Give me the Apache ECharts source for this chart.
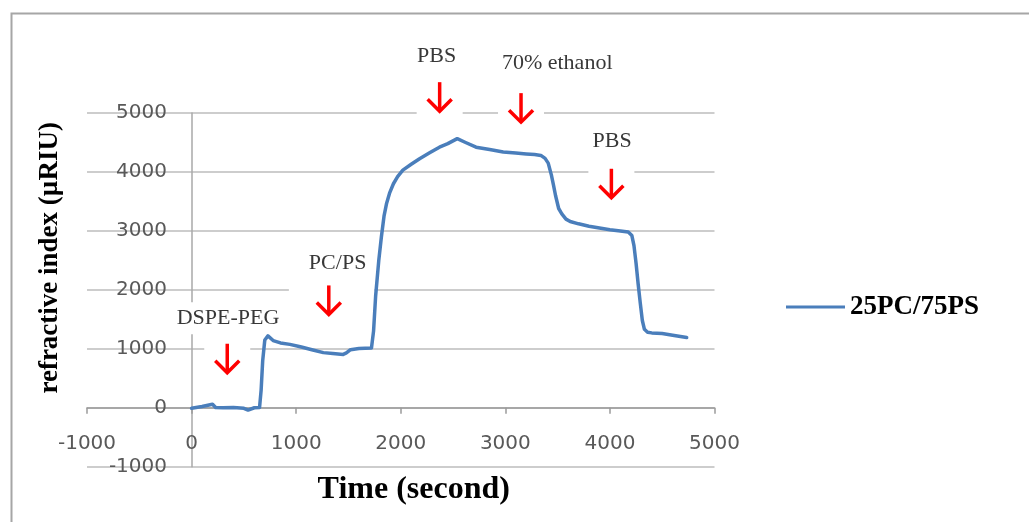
<!DOCTYPE html>
<html>
<head>
<meta charset="utf-8">
<script src="https://cdn.jsdelivr.net/npm/echarts@6/dist/echarts.min.js"></script>
<style>
  html, body { margin: 0; padding: 0; background: #fff; }
  #chart { width: 1029px; height: 522px; }
</style>
</head>
<body>
<div id="chart"></div>
<script>
// Sensorgram: refractive index over time for the 25PC/75PS bilayer
const seriesName = '25PC/75PS';
const timeSec = [0, 100, 200, 230, 300, 400, 500, 540, 600, 650, 665, 680, 700, 730, 780, 850, 940,
  1050, 1150, 1260, 1350, 1450, 1480, 1520, 1600, 1720, 1740, 1760, 1790, 1815, 1840, 1865, 1895,
  1930, 1970, 2020, 2100, 2180, 2280, 2370, 2450, 2540, 2620, 2720, 2850, 2980, 3100, 3200, 3280,
  3340, 3380, 3410, 3440, 3460, 3480, 3510, 3540, 3580, 3620, 3700, 3800, 3900, 4000, 4100, 4175,
  4210, 4230, 4250, 4270, 4290, 4310, 4330, 4360, 4400, 4500, 4600, 4734];
const riValues = [-10, 20, 60, 5, 0, 5, -10, -40, 0, 5, 300, 800, 1150, 1220, 1140, 1100, 1075,
  1030, 985, 935, 920, 905, 930, 985, 1005, 1015, 1300, 1900, 2500, 2900, 3250, 3470, 3650,
  3800, 3920, 4030, 4130, 4225, 4330, 4420, 4480, 4565, 4500, 4420, 4380, 4340, 4320, 4305, 4295,
  4280, 4230, 4150, 3950, 3780, 3600, 3380, 3290, 3200, 3160, 3120, 3080, 3050, 3020, 3000, 2980,
  2920, 2750, 2450, 2100, 1780, 1480, 1330, 1280, 1270, 1260, 1230, 1190];

// Injection notes: arrow tip (time, level) and the caption placed above it
const noteLabels = ['DSPE-PEG', 'PC/PS', 'PBS', '70% ethanol', 'PBS'];
const arrowTimes = [341, 1312, 2372, 3150, 4014];
const arrowLevels = [577, 1566, 5014, 4828, 3545];
const labelTimes = [348, 1339, 2343, 3496, 4021];
const labelLevels = [1520, 2453, 5968, 5849, 4517];

// Axis ticks
const axisMin = -1000;
const axisMax = 5000;
const axisStep = 1000;

const lineData = timeSec.map((t, i) => [t, riValues[i]]);
const arrowData = arrowTimes.map((t, i) => [t, arrowLevels[i]]);
const labelData = labelTimes.map((t, i) => [t, labelLevels[i]]);

// White backing behind each caption (pixels: top, right, bottom, left)
const captionPad = [[6, 10, 4, 10], [30, 8, 6, 20], [14, 14, 6, 14], [6, 10, 4, 10], [6, 10, 4, 10]];

const tickFont = { fontFamily: 'DejaVu Sans', fontSize: 20, color: '#595959', formatter: v => String(v) };

const chart = echarts.init(document.getElementById('chart'), null, { renderer: 'canvas' });

chart.setOption({
  animation: false,
  backgroundColor: '#ffffff',
  grid: { left: 87, right: 314.5, top: 113, bottom: 55.3, containLabel: false, outerBoundsMode: 'none' },
  legend: {
    data: [seriesName],
    left: 786,
    top: 293,
    padding: 0,
    itemWidth: 59,
    itemHeight: 3,
    icon: 'rect',
    textStyle: { fontFamily: 'Liberation Serif', fontWeight: 'bold', fontSize: 27, color: '#000', lineHeight: 28 }
  },
  xAxis: {
    type: 'value',
    min: axisMin, max: axisMax, interval: axisStep,
    name: 'Time (second)',
    nameLocation: 'middle',
    nameGap: 7,
    nameTextStyle: { fontFamily: 'Liberation Serif', fontWeight: 'bold', fontSize: 32, color: '#000', padding: [0, 0, 0, 26] },
    axisLine: { onZero: true, lineStyle: { color: '#9a9a9a', width: 1.5 } },
    axisTick: { show: true, inside: false, length: 6, lineStyle: { color: '#9a9a9a', width: 1.5 } },
    axisLabel: Object.assign({ margin: -33 }, tickFont),
    splitLine: { show: false }
  },
  yAxis: {
    type: 'value',
    min: axisMin, max: axisMax, interval: axisStep,
    name: 'refractive index (µRIU)',
    nameLocation: 'middle',
    nameGap: 23,
    nameTextStyle: { fontFamily: 'Liberation Serif', fontWeight: 'bold', fontSize: 27, color: '#000', padding: [0, 0, 0, 64] },
    axisLine: { show: true, onZero: true, lineStyle: { color: '#a8a8a8', width: 1.5 } },
    axisTick: { show: false },
    axisLabel: Object.assign({ margin: -80 }, tickFont),
    splitLine: { show: true, lineStyle: { color: '#bdbdbd', width: 1.5 } }
  },
  graphic: [{
    type: 'polyline',
    silent: true,
    shape: { points: [[11.5, 522], [11.5, 13.5], [1029, 13.5]] },
    style: { stroke: '#a6a6a6', lineWidth: 2, fill: null }
  }],
  series: [
    {
      name: seriesName,
      type: 'line',
      data: lineData,
      showSymbol: false,
      symbol: 'none',
      z: 4,
      lineStyle: { color: '#4a7ebb', width: 3.5, join: 'round', cap: 'round' },
      itemStyle: { color: '#4a7ebb' }
    },
    {
      name: 'arrows',
      type: 'custom',
      z: 3,
      silent: true,
      data: arrowData,
      renderItem: function (params, api) {
        const p = api.coord([api.value(0), api.value(1)]);
        const x = p[0], y = p[1];
        return {
          type: 'group',
          children: [
            { type: 'rect', shape: { x: x - 23, y: y - 33, width: 46, height: 37 }, style: { fill: '#ffffff' } },
            { type: 'polyline', shape: { points: [[x, y - 30], [x, y - 1]] },
              style: { stroke: '#ff0000', lineWidth: 3.5, fill: null } },
            { type: 'polyline', shape: { points: [[x - 12, y - 13], [x, y - 1], [x + 12, y - 13]] },
              style: { stroke: '#ff0000', lineWidth: 3.5, fill: null, lineJoin: 'miter' } }
          ]
        };
      }
    },
    {
      name: 'captions',
      type: 'custom',
      z: 2,
      silent: true,
      data: labelData,
      renderItem: function (params, api) {
        const p = api.coord([api.value(0), api.value(1)]);
        return {
          type: 'text',
          x: p[0],
          y: p[1],
          style: {
            text: noteLabels[params.dataIndex],
            font: '22px "Liberation Serif"',
            fill: '#383838',
            align: 'center',
            verticalAlign: 'middle',
            backgroundColor: '#ffffff',
            padding: captionPad[params.dataIndex]
          }
        };
      }
    }
  ]
});
</script>
</body>
</html>
